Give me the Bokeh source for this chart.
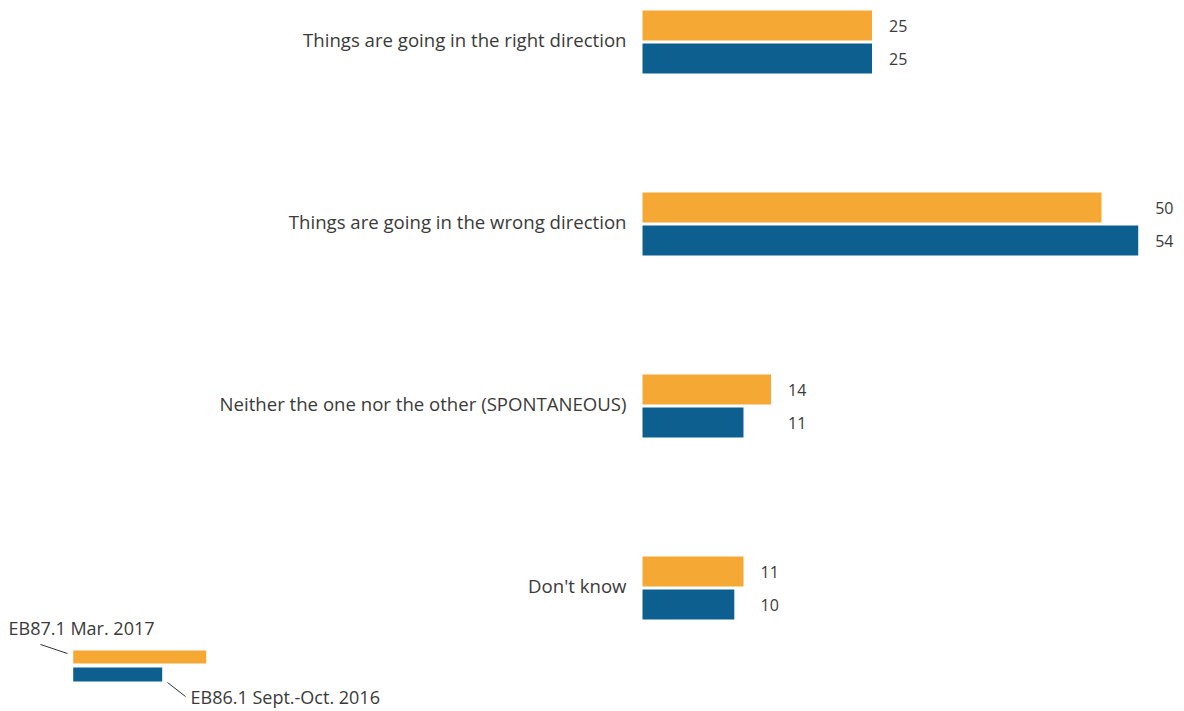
from bokeh.plotting import figure
from bokeh.models import Range1d, ColumnDataSource
from bokeh.core.properties import value
from bokeh.embed import file_html
from bokeh.resources import INLINE

categories = [
    "Things are going in the right direction",
    "Things are going in the wrong direction",
    "Neither the one nor the other (SPONTANEOUS)",
    "Don't know",
]
mar_2017 = [25, 50, 14, 11]
sep_oct_2016 = [25, 54, 11, 10]
series_names = ["EB87.1 Mar. 2017", "EB86.1 Sept.-Oct. 2016"]

ORANGE = "#F5A833"
BLUE = "#0D5F8F"
TEXT = "#3a3a3a"
FONT = "Open Sans"

W, H = 1184, 711
PX_PER_UNIT = 9.18      # horizontal scale (px per percentage point)
GROUP_PX = 182.0        # vertical distance between groups
BAR0_PX = 642           # frame x of the value axis origin
G0_PX = 41.5            # frame y of first group centre

x_start = -BAR0_PX / PX_PER_UNIT
x_end = x_start + W / PX_PER_UNIT
y_top = -G0_PX / GROUP_PX
y_bottom = y_top + H / GROUP_PX


def X(px):  # frame px -> data x
    return (px - BAR0_PX) / PX_PER_UNIT


def Y(py):  # frame px -> data y
    return (py - G0_PX) / GROUP_PX


p = figure(width=W, height=H, output_backend="svg", toolbar_location=None,
           x_range=Range1d(x_start, x_end), y_range=Range1d(y_bottom, y_top),
           min_border=0, min_border_left=0, min_border_right=0,
           min_border_top=0, min_border_bottom=0)
p.axis.visible = False
p.grid.visible = False
p.outline_line_color = None
p.background_fill_color = "white"
p.border_fill_color = "white"

bar_h = 30 / GROUP_PX
off = 16.5 / GROUP_PX
idx = list(range(len(categories)))

src = ColumnDataSource(dict(
    y_o=[i - off for i in idx], y_b=[i + off for i in idx],
    y_c=[i - 3 / GROUP_PX for i in idx], cat=categories,
    v_o=mar_2017, v_b=sep_oct_2016,
    t_o=[str(v) for v in mar_2017], t_b=[str(v) for v in sep_oct_2016],
    lx=[max(a, b) + 17 / PX_PER_UNIT for a, b in zip(mar_2017, sep_oct_2016)],
    cx=[-16 / PX_PER_UNIT] * len(categories),
))

p.hbar(y="y_o", left=0, right="v_o", height=bar_h, source=src,
       fill_color=ORANGE, line_color=None)
p.hbar(y="y_b", left=0, right="v_b", height=bar_h, source=src,
       fill_color=BLUE, line_color=None)

p.text(x="lx", y="y_o", text="t_o", source=src, text_font=value(FONT),
       text_font_size="16px", text_color=TEXT, text_align="left",
       text_baseline="middle")
p.text(x="lx", y="y_b", text="t_b", source=src, text_font=value(FONT),
       text_font_size="16px", text_color=TEXT, text_align="left",
       text_baseline="middle")
p.text(x="cx", y="y_c", text="cat", source=src, text_font=value(FONT),
       text_font_size="18.6px", text_color=TEXT, text_align="right",
       text_baseline="middle")

# legend (drawn as in the original, lower left)
p.hbar(y=[(Y(650) + Y(663)) / 2], left=X(72.7), right=X(205.7),
       height=13 / GROUP_PX, fill_color=ORANGE, line_color=None)
p.hbar(y=[(Y(667) + Y(681)) / 2], left=X(72.7), right=X(161.7),
       height=14 / GROUP_PX, fill_color=BLUE, line_color=None)
p.segment(x0=[X(40), X(167)], y0=[Y(644), Y(682)],
          x1=[X(67), X(185)], y1=[Y(653), Y(696)],
          line_color="#333333", line_width=1)
p.text(x=[X(8), X(190)], y=[Y(627), Y(696)], text=series_names,
       text_font=value(FONT), text_font_size="18px", text_color=TEXT,
       text_align="left", text_baseline="middle")

open("out.html", "w").write(file_html(p, INLINE))
